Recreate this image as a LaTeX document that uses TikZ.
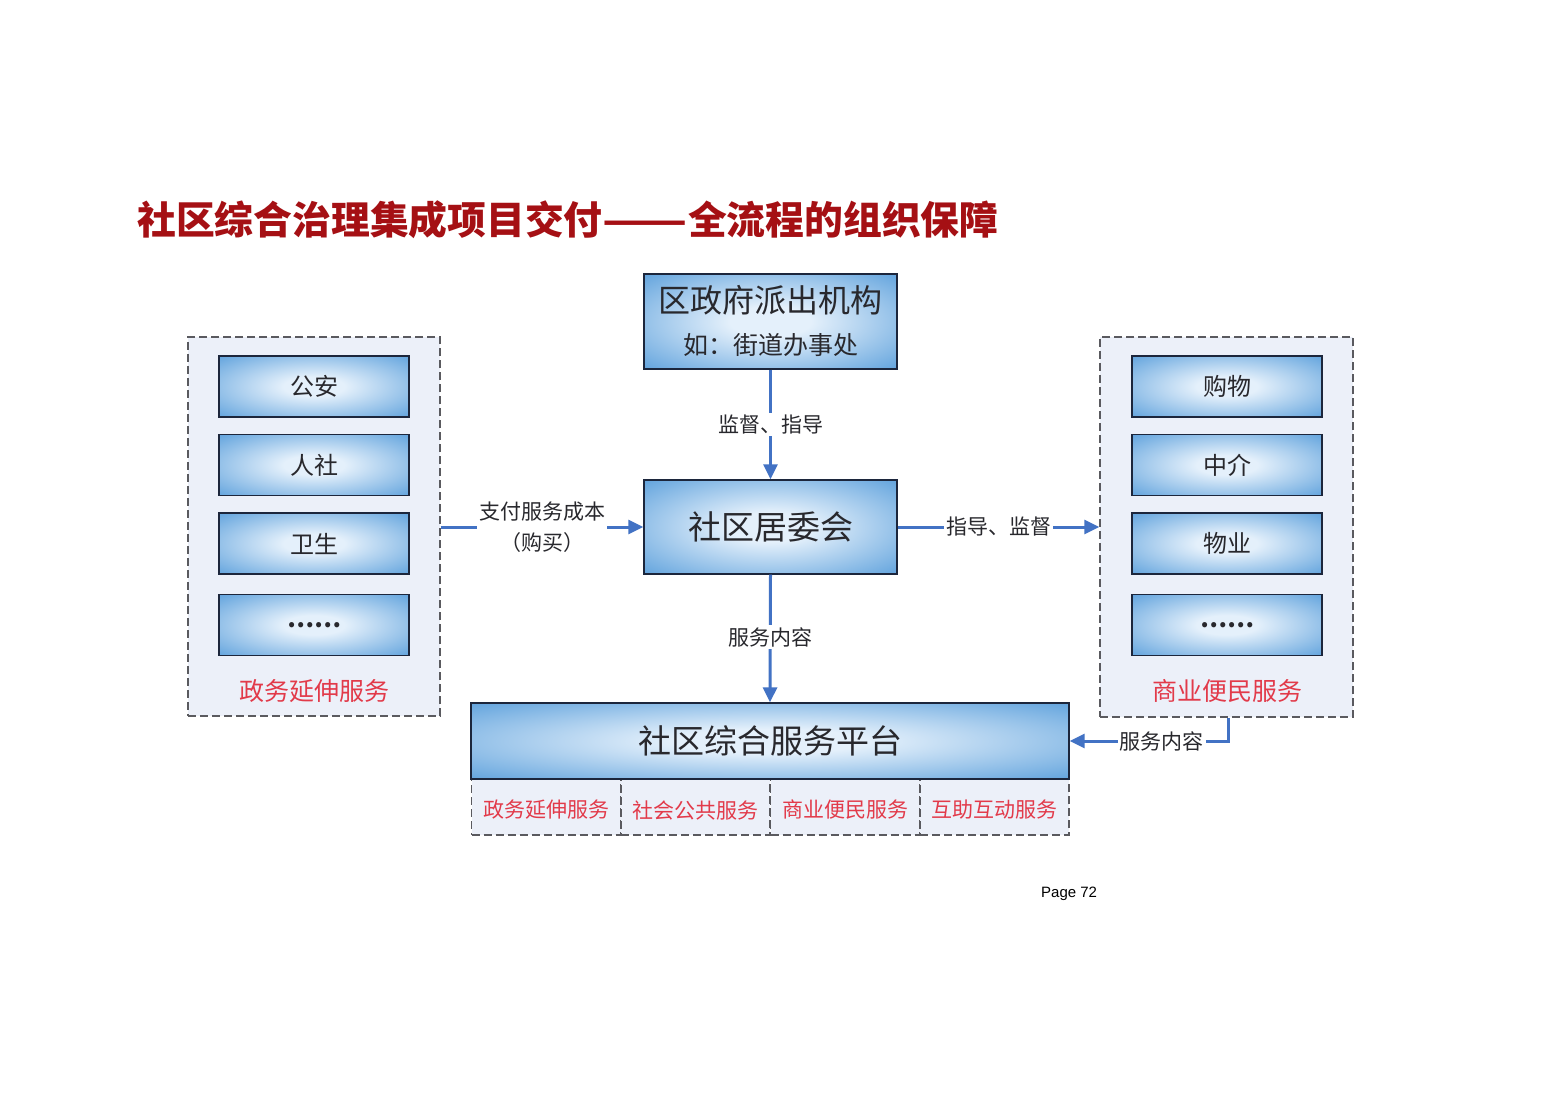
\documentclass[tikz,border=0pt]{standalone}
\usepackage{fontspec}
\setmainfont{Noto Sans CJK SC}
\newfontfamily\cjkblack{Noto Sans CJK SC Black}
\newfontfamily\latinsans{Liberation Sans}
\usetikzlibrary{arrows.meta}
\definecolor{boxc}{RGB}{228,240,251}
\definecolor{boxe}{RGB}{58,140,212}
\definecolor{boxline}{RGB}{28,38,60}
\definecolor{contfill}{RGB}{236,240,249}
\definecolor{dashgray}{RGB}{90,90,95}
\definecolor{arrowblue}{RGB}{66,114,196}
\definecolor{txt}{RGB}{40,40,45}
\definecolor{redtxt}{RGB}{226,58,74}
\definecolor{titlered}{RGB}{165,16,20}
\pgfdeclareradialshading{boxshade}{\pgfpoint{0bp}{0bp}}{color(0bp)=(boxc); color(8bp)=(boxc); color(44bp)=(boxe); color(50bp)=(boxe); color(72bp)=(boxe)}
\newcommand\fsz[2]{\fontsize{#1}{#2}\selectfont}
\tikzset{
 bluebox/.style={draw=boxline, line width=1.4pt, shading=boxshade, text=txt, inner sep=0pt},
 cont/.style={draw=dashgray, dash pattern=on 8pt off 4pt, line width=1.4pt, fill=contfill, inner sep=0pt},
 conn/.style={draw=arrowblue, line width=3pt, -{Triangle[length=15pt,width=14pt]}},
 lbl/.style={fill=white, text=txt, inner sep=2pt, font=\fsz{21}{25}},
 redlbl/.style={text=redtxt, font=\fsz{25}{30}, inner sep=0pt},
 smallbox/.style={bluebox, minimum width=190pt, minimum height=61pt, font=\fsz{24}{28}},
 cell/.style={cont, minimum width=149pt, minimum height=56pt},
 celltext/.style={text=redtxt, font=\fsz{21}{25}, inner sep=0pt},
}
\begin{document}
\begin{tikzpicture}[x=1pt,y=-1pt]
\useasboundingbox[fill=white] (0,0) rectangle (1559,1102);
% title
\node[anchor=west, text=titlered, font=\cjkblack\fsz{38.8}{44}, inner sep=0pt] (title) at (137,220) {社区综合治理集成项目交付\scalebox{1.28}[1]{——}全流程的组织保障};
% left container
\node[cont, minimum width=252pt, minimum height=379pt] (leftc) at (314,526.5) {};
\node[smallbox] (l1) at (314,386.5) {公安};
\node[smallbox] (l2) at (314,465) {人社};
\node[smallbox] (l3) at (314,543.5) {卫生};
\node[smallbox] (l4) at (314,625) {\bfseries ……};
\node[redlbl] (lred) at (314,691) {政务延伸服务};
% right container
\node[cont, minimum width=253pt, minimum height=380pt] (rightc) at (1226.5,527) {};
\node[smallbox] (r1) at (1227,386.5) {购物};
\node[smallbox] (r2) at (1227,465) {中介};
\node[smallbox] (r3) at (1227,543.5) {物业};
\node[smallbox] (r4) at (1227,625) {\bfseries ……};
\node[redlbl] (rred) at (1227,691) {商业便民服务};
% top box
\node[bluebox, minimum width=253pt, minimum height=95pt] (top) at (770.5,321.5) {};
\node[text=txt, font=\fsz{32}{36}, inner sep=0pt] (topa) at (770.5,300) {区政府派出机构};
\node[text=txt, font=\fsz{25}{30}, inner sep=0pt] (topb) at (770.5,345) {如：街道办事处};
% middle box
\node[bluebox, minimum width=253pt, minimum height=94pt, font=\fsz{33}{38}] (mid) at (770.5,527) {社区居委会};
% bottom cells
\node[cell] (c1) at (546,807) {};
\node[cell] (c2) at (695.5,807) {};
\node[cell] (c3) at (845,807) {};
\node[cell] (c4) at (994.5,807) {};
\node[celltext] (t1) at (546,810) {政务延伸服务};
\node[celltext] (t2) at (695.5,810) {社会公共服务};
\node[celltext] (t3) at (845,810) {商业便民服务};
\node[celltext] (t4) at (994.5,810) {互助互动服务};
% platform
\node[bluebox, minimum width=598pt, minimum height=76pt, font=\fsz{33}{38}] (plat) at (770,741) {社区综合服务平台};
% connectors
\draw[conn] (top.south) -- node[lbl] (lab1) {监督、指导} (mid.north);
\draw[conn] (mid.south) -- node[lbl, pos=0.49] (lab2) {服务内容} (plat.north);
\draw[conn] (leftc.east |- mid.west) -- node[lbl, align=center, font=\fsz{21}{31}] (lab3) {支付服务成本\\（购买）} (mid.west);
\draw[conn] (mid.east) -- node[lbl] (lab4) {指导、监督} (rightc.west |- mid.east);
\draw[conn] ([xshift=1.5pt]rightc.south) |- node[lbl, pos=0.71] (lab5) {服务内容} (plat.east);
% page number
\node[anchor=west, font=\latinsans\fsz{15}{18}, text=black, inner sep=0pt] (page) at (1041,894) {Page 72};
\end{tikzpicture}
\end{document}
